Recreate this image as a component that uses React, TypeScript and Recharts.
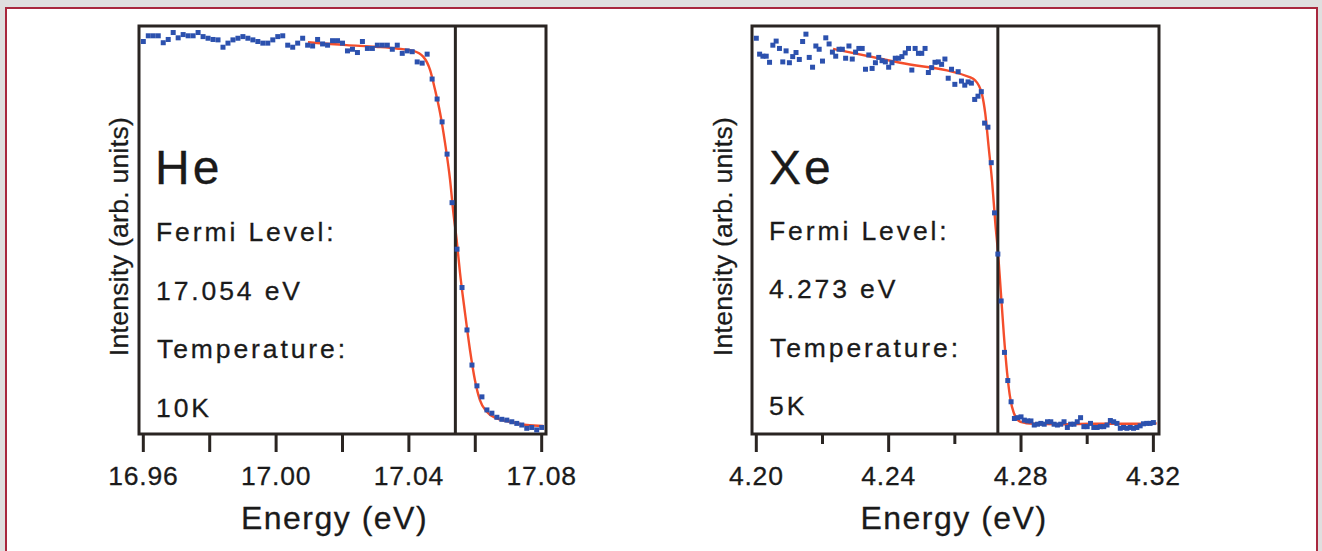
import React from 'react';
import { ComposedChart, Scatter, Line, XAxis, YAxis, ReferenceLine, ReferenceArea } from 'recharts';

// ---------- He panel data ----------
const heEnergy = [
  16.96, 16.9615, 16.963, 16.9645, 16.966, 16.9675, 16.969, 16.9705, 16.972, 16.9735,
  16.975, 16.9765, 16.978, 16.9795, 16.981, 16.9825, 16.984, 16.9855, 16.987, 16.9885,
  16.99, 16.9915, 16.993, 16.9945, 16.996, 16.9975, 16.999, 17.0005, 17.002, 17.0035,
  17.005, 17.0065, 17.008, 17.0095, 17.011, 17.0125, 17.014, 17.0155, 17.017, 17.0185,
  17.02, 17.0215, 17.023, 17.0245, 17.026, 17.0275, 17.029, 17.0305, 17.032, 17.0335,
  17.035, 17.0365, 17.038, 17.0395, 17.041, 17.0425, 17.044, 17.0455, 17.047, 17.0485,
  17.05, 17.0515, 17.053, 17.0545, 17.056, 17.0575, 17.059, 17.0605, 17.062, 17.0635,
  17.065, 17.0665, 17.068, 17.0695, 17.071, 17.0725, 17.074, 17.0755, 17.077, 17.0785,
  17.08,
];
const heIntensity = [
  0.962, 0.976, 0.976, 0.976, 0.959, 0.967, 0.984, 0.971, 0.979, 0.976,
  0.976, 0.984, 0.974, 0.970, 0.967, 0.966, 0.948, 0.958, 0.966, 0.970,
  0.974, 0.970, 0.966, 0.962, 0.958, 0.958, 0.966, 0.974, 0.976, 0.953,
  0.948, 0.958, 0.970, 0.953, 0.951, 0.967, 0.956, 0.953, 0.964, 0.964,
  0.958, 0.939, 0.943, 0.935, 0.962, 0.945, 0.945, 0.953, 0.953, 0.953,
  0.943, 0.953, 0.933, 0.939, 0.937, 0.912, 0.909, 0.931, 0.870, 0.821,
  0.765, 0.686, 0.567, 0.453, 0.359, 0.255, 0.169, 0.118, 0.091, 0.059,
  0.051, 0.041, 0.036, 0.034, 0.030, 0.026, 0.022, 0.014, 0.016, 0.010,
  0.016,
];
const heFitEnergy = [
  17.0096, 17.0212, 17.03, 17.0363, 17.0413, 17.0443, 17.0464, 17.0479, 17.0494, 17.0509,
  17.0524, 17.0534, 17.0544, 17.0554, 17.0569, 17.0584, 17.0599, 17.0614, 17.0634, 17.0665,
  17.0705, 17.0755, 17.0805,
];
const heFitIntensity = [
  0.960, 0.953, 0.949, 0.945, 0.939, 0.925, 0.892, 0.843, 0.787, 0.713,
  0.623, 0.542, 0.475, 0.395, 0.297, 0.206, 0.132, 0.083, 0.055, 0.038,
  0.030, 0.022, 0.020,
];
const heTicks = [16.96, 16.98, 17.0, 17.02, 17.04, 17.06, 17.08];
const heTickLabels = ['16.96', '', '17.00', '', '17.04', '', '17.08'];
const heTickMajor = [true, true, true, true, true, true, true];

// ---------- Xe panel data ----------
const xeEnergy = [
  4.2, 4.201, 4.202, 4.203, 4.204, 4.205, 4.206, 4.207, 4.208, 4.209,
  4.21, 4.211, 4.212, 4.213, 4.214, 4.215, 4.216, 4.217, 4.218, 4.219,
  4.22, 4.221, 4.222, 4.223, 4.224, 4.225, 4.226, 4.227, 4.228, 4.229,
  4.23, 4.231, 4.232, 4.233, 4.234, 4.235, 4.236, 4.237, 4.238, 4.239,
  4.24, 4.241, 4.242, 4.243, 4.244, 4.245, 4.246, 4.247, 4.248, 4.249,
  4.25, 4.251, 4.252, 4.253, 4.254, 4.255, 4.256, 4.257, 4.258, 4.259,
  4.26, 4.261, 4.262, 4.263, 4.264, 4.265, 4.266, 4.267, 4.268, 4.269,
  4.27, 4.271, 4.272, 4.273, 4.274, 4.275, 4.276, 4.277, 4.278, 4.279,
  4.28, 4.281, 4.282, 4.283, 4.284, 4.285, 4.286, 4.287, 4.288, 4.289,
  4.29, 4.291, 4.292, 4.293, 4.294, 4.295, 4.296, 4.297, 4.298, 4.299,
  4.3, 4.301, 4.302, 4.303, 4.304, 4.305, 4.306, 4.307, 4.308, 4.309,
  4.31, 4.311, 4.312, 4.313, 4.314, 4.315, 4.316, 4.317, 4.318, 4.319,
  4.32,
];
const xeIntensity = [
  0.970, 0.931, 0.926, 0.926, 0.911, 0.953, 0.963, 0.945, 0.912, 0.939,
  0.910, 0.925, 0.935, 0.918, 0.962, 0.980, 0.923, 0.899, 0.951, 0.943,
  0.914, 0.971, 0.956, 0.936, 0.926, 0.943, 0.943, 0.921, 0.951, 0.919,
  0.936, 0.945, 0.945, 0.894, 0.929, 0.896, 0.910, 0.923, 0.915, 0.912,
  0.899, 0.910, 0.921, 0.921, 0.925, 0.934, 0.945, 0.892, 0.945, 0.933,
  0.933, 0.945, 0.886, 0.898, 0.911, 0.912, 0.906, 0.919, 0.872, 0.894,
  0.857, 0.888, 0.865, 0.855, 0.863, 0.860, 0.820, 0.828, 0.839, 0.762,
  0.752, 0.665, 0.542, 0.441, 0.326, 0.200, 0.131, 0.079, 0.038, 0.040,
  0.042, 0.034, 0.032, 0.032, 0.022, 0.024, 0.026, 0.024, 0.030, 0.030,
  0.024, 0.022, 0.024, 0.030, 0.016, 0.024, 0.024, 0.030, 0.040, 0.018,
  0.018, 0.026, 0.016, 0.016, 0.018, 0.018, 0.022, 0.033, 0.030, 0.026,
  0.014, 0.016, 0.014, 0.016, 0.014, 0.016, 0.020, 0.025, 0.026, 0.026,
  0.028,
];
const xeFitEnergy = [
  4.2232, 4.2435, 4.2647, 4.2662, 4.2672, 4.2682, 4.2692, 4.2702, 4.2713, 4.2722,
  4.2731, 4.2738, 4.2748, 4.2758, 4.2768, 4.2778, 4.2798, 4.2838, 4.2919, 4.302,
  4.3121, 4.321,
];
const xeFitIntensity = [
  0.944, 0.910, 0.874, 0.866, 0.855, 0.833, 0.785, 0.705, 0.615, 0.520,
  0.440, 0.360, 0.245, 0.150, 0.085, 0.052, 0.030, 0.025, 0.024, 0.025,
  0.025, 0.026,
];
const xeTicks = [4.2, 4.22, 4.24, 4.26, 4.28, 4.3, 4.32];
const xeTickLabels = ['4.20', '', '4.24', '', '4.28', '', '4.32'];
const xeTickMajor = [true, false, true, false, true, false, true];

const FONT = "'Liberation Sans', Arial, Helvetica, sans-serif";
const INK = '#2a2522';
const TEXT = '#1a1a1a';
const BLUE = '#2c51ae';
const RED = '#f44e2c';

const toRows = (xs: number[], ys: number[]) => xs.map((e, i) => ({ e, v: ys[i] }));

const Square = (props: any) => {
  const { cx, cy } = props;
  if (cx == null || cy == null) return null;
  return <rect x={cx - 2.5} y={cy - 2.5} width={5} height={5} fill={BLUE} />;
};

const EnergyTick = (props: any) => {
  const { x, y, index, labels, majors } = props;
  const label = labels[index];
  const len = majors[index] ? 18 : 10;
  return (
    <g>
      <line x1={x} x2={x} y1={y} y2={y + len} stroke={INK} strokeWidth={3} />
      {label ? (
        <text
          x={x}
          y={y + 51}
          textAnchor="middle"
          fill={TEXT}
          stroke={TEXT}
          strokeWidth={0.3}
          style={{ fontFamily: FONT, fontSize: 26.5, letterSpacing: 0.8 }}
        >
          {label}
        </text>
      ) : null}
    </g>
  );
};

const XTitle = (props: any) => {
  const vb = props.viewBox || { x: 0, width: 0 };
  return (
    <text
      x={vb.x + vb.width / 2 + props.shift}
      y={529}
      textAnchor="middle"
      fill={TEXT}
      stroke={TEXT}
      strokeWidth={0.3}
      style={{ fontFamily: FONT, fontSize: 32, letterSpacing: 1.5 }}
    >
      {props.text}
    </text>
  );
};

type PanelProps = {
  left: number;
  marginLeft: number;
  marginRight: number;
  domain: [number, number];
  data: { e: number; v: number }[];
  fit: { e: number; v: number }[];
  ticks: number[];
  labels: string[];
  majors: boolean[];
  fermi: number;
  xShift: number;
};

const Panel = (p: PanelProps) => (
  <div style={{ position: 'absolute', left: p.left, top: 0 }}>
    <ComposedChart
      width={660}
      height={551}
      margin={{ top: 26, right: p.marginRight, bottom: 17, left: p.marginLeft }}
    >
      <XAxis
        type="number"
        dataKey="e"
        domain={p.domain}
        ticks={p.ticks}
        interval={0}
        allowDataOverflow
        axisLine={false}
        tickLine={false}
        tickSize={0}
        tickMargin={0}
        height={100}
        tick={<EnergyTick labels={p.labels} majors={p.majors} />}
        label={<XTitle text="Energy (eV)" shift={p.xShift} />}
      />
      <YAxis
        type="number"
        dataKey="v"
        domain={[0, 1]}
        allowDataOverflow
        width={0}
        tick={false}
        axisLine={false}
        tickLine={false}
      />
      <Scatter data={p.data} dataKey="v" shape={<Square />} isAnimationActive={false} />
      <Line
        data={p.fit}
        dataKey="v"
        type="monotone"
        stroke={RED}
        strokeWidth={2.4}
        dot={false}
        activeDot={false}
        isAnimationActive={false}
      />
      <ReferenceLine x={p.fermi} stroke={INK} strokeWidth={3} ifOverflow="visible" />
      <ReferenceArea
        x1={p.domain[0]}
        x2={p.domain[1]}
        y1={0}
        y2={1}
        fill="none"
        fillOpacity={0}
        stroke={INK}
        strokeWidth={3}
        ifOverflow="visible"
      />
    </ComposedChart>
  </div>
);

const annoStyleBig = { fontFamily: FONT, fontSize: 48, letterSpacing: 3 };
const annoStyle = { fontFamily: FONT, fontSize: 26.5, letterSpacing: 2.9 };
const yTitleStyle = { fontFamily: FONT, fontSize: 26.5, letterSpacing: 0.3 };

const YTitle = ({ x, y, text }: { x: number; y: number; text: string }) => (
  <text x={x} y={y} transform={`rotate(-90, ${x}, ${y})`} textAnchor="middle" style={yTitleStyle}>
    {text}
  </text>
);

export default function App() {
  return (
    <div
      style={{
        position: 'fixed',
        left: 0,
        top: 0,
        width: 1322,
        height: 551,
        overflow: 'hidden',
        background: '#dfdfdf',
      }}
    >
      <div
        style={{
          position: 'absolute',
          left: 5,
          top: 7,
          width: 1313,
          height: 600,
          background: '#ffffff',
          border: '2px solid #a8283e',
          boxSizing: 'border-box',
        }}
      />
      <Panel
        left={0}
        marginLeft={139}
        marginRight={114}
        domain={[16.9587, 17.0813]}
        data={toRows(heEnergy, heIntensity)}
        fit={toRows(heFitEnergy, heFitIntensity)}
        ticks={heTicks}
        labels={heTickLabels}
        majors={heTickMajor}
        fermi={17.054}
        xShift={-8}
      />
      <Panel
        left={612}
        marginLeft={140}
        marginRight={113}
        domain={[4.1987, 4.3217]}
        data={toRows(xeEnergy, xeIntensity)}
        fit={toRows(xeFitEnergy, xeFitIntensity)}
        ticks={xeTicks}
        labels={xeTickLabels}
        majors={xeTickMajor}
        fermi={4.273}
        xShift={-1.5}
      />
      <svg
        width={1322}
        height={551}
        style={{ position: 'absolute', left: 0, top: 0, pointerEvents: 'none' }}
      >
        <g fill={TEXT} stroke={TEXT} strokeWidth={0.3}>
          <YTitle x={127.7} y={236.5} text="Intensity (arb. units)" />
          <YTitle x={732.3} y={236.5} text="Intensity (arb. units)" />
          <text x={155} y={184} style={annoStyleBig}>He</text>
          <text x={156} y={241} style={annoStyle}>Fermi Level:</text>
          <text x={156} y={299.5} style={annoStyle}>17.054 eV</text>
          <text x={157} y={358} style={annoStyle}>Temperature:</text>
          <text x={156} y={417} style={annoStyle}>10K</text>
          <text x={769} y={183.5} style={annoStyleBig}>Xe</text>
          <text x={769} y={240} style={annoStyle}>Fermi Level:</text>
          <text x={769} y={298.3} style={annoStyle}>4.273 eV</text>
          <text x={770} y={356.7} style={annoStyle}>Temperature:</text>
          <text x={769} y={415} style={annoStyle}>5K</text>
        </g>
      </svg>
    </div>
  );
}
